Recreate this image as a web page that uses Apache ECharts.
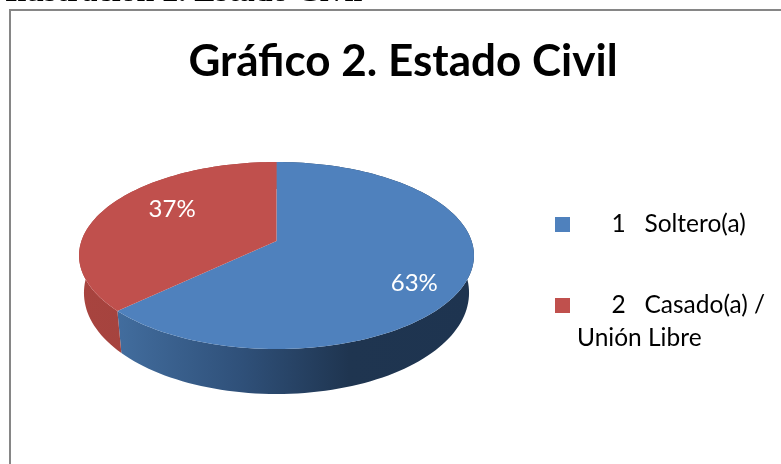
<!DOCTYPE html>
<html>
<head>
<meta charset="utf-8">
<style>html,body{margin:0;padding:0;background:#fff}#chart{width:781px;height:464px}</style>
<script src="https://cdn.jsdelivr.net/npm/echarts@6/dist/echarts.min.js"></script>
</head>
<body>
<div id="chart"></div>
<script>
// Estado civil: share of respondents per category
const categories = ['1   Soltero(a)', '2   Casado(a) /\nUnión Libre'];
const shares = [63, 37];
const caption = 'Ilustración 2. Estado Civil';
const chartTitle = 'Gráfico 2. Estado Civil';

const topColors = ['#4f81bd', '#c0504d'];
const labelNudge = [[-3, 14], [24, -6]];
const total = shares.reduce((a, b) => a + b, 0);

// Tilted-disc projection: a unit circle seen in perspective
const disc = { cx: 276.5, cy: 241, a: 195.1, b: 91.25, k: -0.155 };
function project(u, v) {
  const d = 1 + disc.k * v;
  return [disc.cx + disc.a * u / d, disc.cy + disc.b * v / d];
}
// Position on the rim or inside the disc, angle clockwise from 12 o'clock
function polar(frac, r) {
  const t = frac * 2 * Math.PI;
  return project(r * Math.sin(t), -r * Math.cos(t));
}
// The lower rim of the wall, drawn slightly narrower and further down
function lower(p, frac) {
  const v = -Math.cos(frac * 2 * Math.PI);
  return [disc.cx + (p[0] - disc.cx) * 0.975, p[1] + 36 + 9 * v];
}
function sliceBounds(i) {
  let start = 0;
  for (let j = 0; j < i; j++) start += shares[j] / total;
  return [start, start + shares[i] / total];
}
function arcFracs(a, b) {
  const steps = Math.max(8, Math.ceil((b - a) * 200));
  const out = [];
  for (let s = 0; s <= steps; s++) out.push(a + (b - a) * s / steps);
  return out;
}

const wallFills = [
  new echarts.graphic.LinearGradient(0, 0, 1, 0, [
    { offset: 0, color: '#426d9e' },
    { offset: 0.35, color: '#2f5079' },
    { offset: 0.65, color: '#1f3550' },
    { offset: 1, color: '#1e3450' }
  ]),
  new echarts.graphic.LinearGradient(0, 0, 1, 0, [
    { offset: 0, color: '#a8443f' },
    { offset: 1, color: '#9c403c' }
  ])
];

function renderWall(params, api) {
  const i = params.dataIndex;
  const [a, b] = sliceBounds(i);
  const top = arcFracs(a, b).map(f => polar(f, 1));
  const bottom = arcFracs(a, b).map(f => lower(polar(f, 1), f));
  return {
    type: 'polygon',
    shape: { points: top.concat(bottom.reverse()) },
    style: { fill: wallFills[i] }
  };
}

function renderTop(i) {
  return function (params, api) {
    const [a, b] = sliceBounds(i);
    const pts = [project(0, 0)].concat(arcFracs(a, b).map(f => polar(f, 1)));
    const mid = polar((a + b) / 2, 0.75);
    return {
      type: 'group',
      children: [
        { type: 'polygon', shape: { points: pts }, style: { fill: topColors[i] } },
        {
          type: 'text',
          z2: 10,
          style: {
            x: mid[0] + labelNudge[i][0],
            y: mid[1] + labelNudge[i][1],
            text: api.value(0) + '%',
            fill: '#fff',
            font: '24px Lato',
            align: 'center',
            verticalAlign: 'middle'
          }
        }
      ]
    };
  };
}

const chart = echarts.init(document.getElementById('chart'), null, { renderer: 'canvas' });
chart.setOption({
  animation: false,
  backgroundColor: '#fff',
  graphic: [
    {
      type: 'rect',
      z: -1,
      shape: { x: 10, y: 10, width: 800, height: 500 },
      style: { fill: '#fff', stroke: '#868686', lineWidth: 2 }
    },
    {
      type: 'text',
      style: { x: 5, y: -23, text: caption, fill: '#000', font: 'bold 32px "Liberation Serif"' }
    }
  ],
  title: {
    text: chartTitle,
    left: 398, top: 35, textAlign: 'center',
    textStyle: { fontFamily: 'Lato', fontWeight: 'bold', fontSize: 44, color: '#000' }
  },
  legend: {
    data: categories,
    orient: 'vertical',
    left: 555, top: 208,
    icon: 'rect',
    itemWidth: 15, itemHeight: 15, itemGap: 15, padding: 0,
    selectedMode: false,
    formatter: n => n.startsWith('1') ? '     \u2009' + n : '\n     \u2009' + n,
    textStyle: { fontFamily: 'Lato', fontSize: 24.5, color: '#000', lineHeight: 33, padding: [0, 0, 0, 2] }
  },
  series: [
    { type: 'custom', name: 'wall', coordinateSystem: 'none', data: shares, renderItem: renderWall, silent: true }
  ].concat(categories.map((name, i) => ({
    type: 'custom',
    name,
    coordinateSystem: 'none',
    data: [shares[i]],
    renderItem: renderTop(i),
    itemStyle: { color: topColors[i] },
    silent: true
  })))
});
</script>
</body>
</html>
